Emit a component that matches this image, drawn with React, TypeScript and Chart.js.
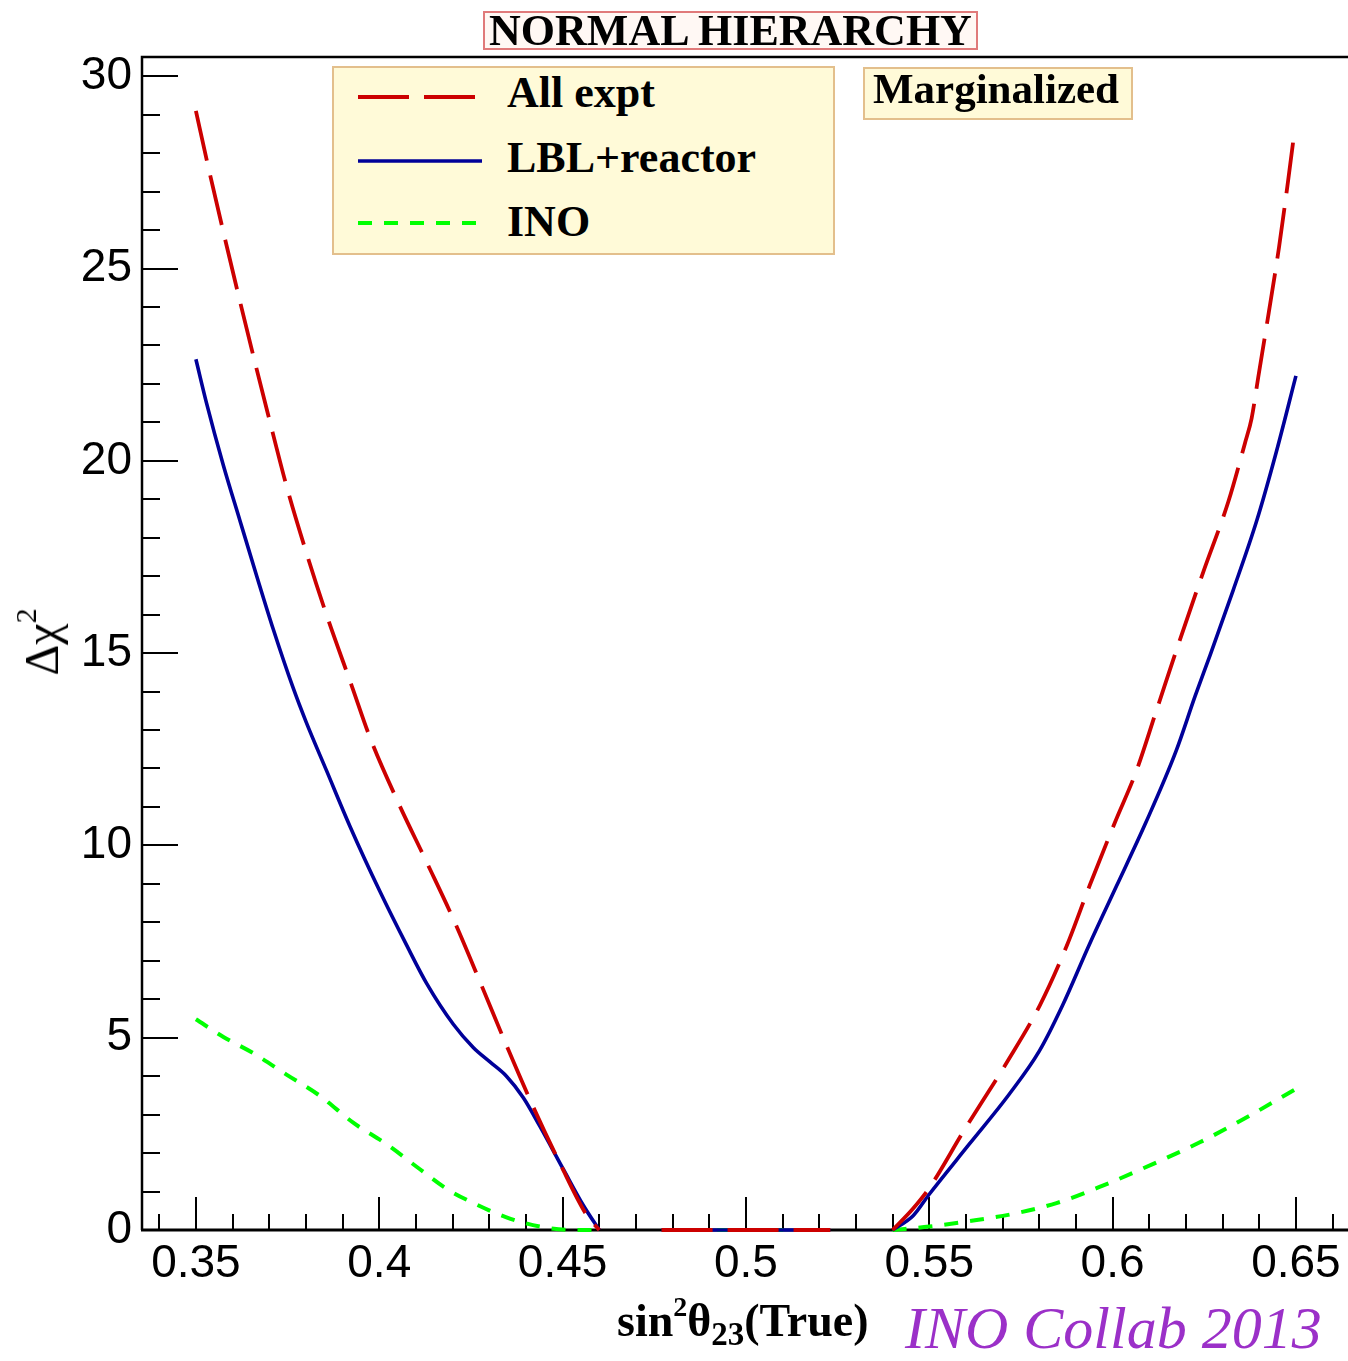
import React, { useEffect, useRef } from 'react';
import { Chart, registerables } from 'chart.js';

Chart.register(...registerables);

// ---------- data ----------
const seriesNames = ['All expt', 'LBL+reactor', 'INO'];

const xMajorLabels = ['0.35', '0.4', '0.45', '0.5', '0.55', '0.6', '0.65'];
const yMajorLabels = ['0', '5', '10', '15', '20', '25', '30'];
const xTickValues = [
  0.34, 0.35, 0.36, 0.37, 0.38, 0.39, 0.4, 0.41, 0.42, 0.43, 0.44, 0.45, 0.46, 0.47, 0.48, 0.49, 0.5,
  0.51, 0.52, 0.53, 0.54, 0.55, 0.56, 0.57, 0.58, 0.59, 0.6, 0.61, 0.62, 0.63, 0.64, 0.65, 0.66,
];
const yTickValues = [
  0, 1, 2, 3, 4, 5, 6, 7, 8, 9, 10, 11, 12, 13, 14, 15, 16, 17, 18, 19, 20, 21, 22, 23, 24, 25, 26, 27,
  28, 29, 30,
];

// All expt (red, long dashes)
const allExptX = [
  0.35, 0.353, 0.357, 0.3615, 0.366, 0.3697, 0.3747, 0.38, 0.3856, 0.3925, 0.3975, 0.405, 0.413,
  0.4206, 0.4275, 0.4347, 0.442, 0.4497, 0.4565, 0.46,
  0.468,
  0.477, 0.5, 0.523,
  0.532,
  0.54, 0.5456, 0.5502, 0.5593, 0.5711, 0.5802, 0.5875, 0.5938, 0.6006, 0.6065, 0.612, 0.6188,
  0.6247, 0.6316, 0.6361, 0.6379, 0.6397, 0.6426, 0.6454, 0.6479, 0.6497,
];
const allExptY = [
  29.1, 27.8, 26.15, 24.35, 22.6, 21.2, 19.35, 17.65, 16.0, 14.15, 12.8, 11.15, 9.55,
  8.0, 6.45, 4.8, 3.2, 1.65, 0.4, 0,
  null,
  0, 0, 0,
  null,
  0, 0.56, 1.12, 2.56, 4.35, 5.85, 7.39, 8.97, 10.59, 11.94, 13.52, 15.47,
  17.1, 18.95, 20.46, 21.1, 22.16, 23.86, 25.56, 27.31, 28.64,
];

// LBL+reactor (blue, solid)
const lblX = [
  0.35, 0.3529, 0.3575, 0.362, 0.3666, 0.3711, 0.3765, 0.3801, 0.3856, 0.392, 0.4002, 0.4075, 0.413,
  0.4202, 0.4257, 0.4302, 0.4347, 0.4393, 0.4438, 0.4502, 0.4556, 0.46,
  0.468,
  0.477, 0.5, 0.523,
  0.532,
  0.54, 0.5456, 0.55, 0.5609, 0.5718, 0.58, 0.5864, 0.5937, 0.601, 0.6091, 0.6173, 0.6225, 0.6266,
  0.6329, 0.6393, 0.6447, 0.65,
];
const lblY = [
  22.64, 21.5, 19.88, 18.45, 17.0, 15.62, 14.1, 13.2, 11.95, 10.5, 8.8, 7.4, 6.4,
  5.35, 4.74, 4.37, 4.0, 3.44, 2.7, 1.58, 0.65, 0,
  null,
  0, 0, 0,
  null,
  0, 0.37, 0.93, 2.23, 3.53, 4.65, 5.85, 7.43, 8.93, 10.6, 12.45, 13.88, 14.95,
  16.64, 18.44, 20.25, 22.21,
];

// INO (green, short dashes)
const inoX = [
  0.35, 0.3575, 0.3656, 0.3747, 0.3838, 0.3929, 0.402, 0.4111, 0.4184, 0.4257, 0.4347, 0.4438,
  0.453, 0.46,
  0.468,
  0.478, 0.5, 0.52,
  0.532,
  0.54, 0.55, 0.5609, 0.5729, 0.5847, 0.5975, 0.6111, 0.6238, 0.6366, 0.65,
];
const inoY = [
  5.48, 5.02, 4.6, 4.04, 3.49, 2.79, 2.23, 1.58, 1.07, 0.7, 0.33, 0.09,
  0, 0,
  null,
  0, 0, 0,
  null,
  0, 0.09, 0.23, 0.42, 0.7, 1.16, 1.72, 2.28, 2.93, 3.67,
];

const seriesColors = ['rgb(204,0,0)', 'rgb(0,0,153)', 'rgb(0,255,0)'];
const seriesDashes: number[][] = [[51, 15], [], [14, 12]];

const zip = (xs: number[], ys: (number | null)[]) => xs.map((x, i) => ({ x, y: ys[i] }));
const fmt = (v: number) => String(Number(v.toFixed(2)));

const framePlugin = {
  id: 'rootFrame',
  beforeDatasetsDraw(chart: any) {
    const { ctx, chartArea: a, scales } = chart;
    ctx.save();
    ctx.strokeStyle = '#000';
    ctx.lineCap = 'butt';
    ctx.lineWidth = 2;
    const xs = scales.x;
    xs.ticks.forEach((t: any) => {
      const px = Math.round(xs.getPixelForValue(t.value));
      const major = xMajorLabels.includes(fmt(t.value));
      const len = major ? 33 : 16;
      ctx.beginPath();
      ctx.moveTo(px, a.bottom);
      ctx.lineTo(px, a.bottom - len);
      ctx.stroke();
    });
    const ys = scales.y;
    ys.ticks.forEach((t: any) => {
      const py = Math.round(ys.getPixelForValue(t.value));
      const major = yMajorLabels.includes(fmt(t.value));
      const len = major ? 36 : 18;
      ctx.beginPath();
      ctx.moveTo(a.left, py);
      ctx.lineTo(a.left + len, py);
      ctx.stroke();
    });
    // frame
    ctx.lineWidth = 3;
    ctx.beginPath();
    ctx.moveTo(a.left - 1, a.bottom);
    ctx.lineTo(a.right, a.bottom);
    ctx.stroke();
    ctx.lineWidth = 2.5;
    ctx.beginPath();
    ctx.moveTo(a.left, a.bottom);
    ctx.lineTo(a.left, a.top);
    ctx.lineTo(a.right, a.top);
    ctx.stroke();
    ctx.restore();
  },
};

export default function App() {
  const canvasRef = useRef<HTMLCanvasElement | null>(null);

  useEffect(() => {
    const canvas = canvasRef.current;
    if (!canvas) return;
    const tickFont = { family: '"Liberation Sans", Arial, Helvetica, sans-serif', size: 46 };
    const common = {
      pointRadius: 0,
      cubicInterpolationMode: 'monotone',
      spanGaps: false,
      fill: false,
      clip: 4,
      borderCapStyle: 'butt',
    };
    const chart = new Chart(canvas, {
      type: 'line',
      data: {
        datasets: [
          {
            ...common,
            label: seriesNames[0],
            data: zip(allExptX, allExptY),
            borderColor: seriesColors[0],
            borderDash: seriesDashes[0],
            borderWidth: 3.8,
          },
          {
            ...common,
            label: seriesNames[1],
            data: zip(lblX, lblY),
            borderColor: seriesColors[1],
            borderDash: seriesDashes[1],
            borderWidth: 3.6,
          },
          {
            ...common,
            label: seriesNames[2],
            data: zip(inoX, inoY),
            borderColor: seriesColors[2],
            borderDash: seriesDashes[2],
            borderWidth: 4,
          },
        ],
      },
      options: {
        responsive: false,
        animation: false,
        devicePixelRatio: 1,
        layout: { padding: { top: 57, left: 0, right: 0, bottom: 0 } },
        plugins: { legend: { display: false }, tooltip: { enabled: false }, title: { display: false } },
        scales: {
          x: {
            type: 'linear',
            min: 0.3353,
            max: 0.6642,
            grid: { display: false, drawTicks: false },
            border: { display: false },
            afterBuildTicks: (scale: any) => {
              scale.ticks = xTickValues.map((v) => ({ value: v }));
            },
            afterFit: (scale: any) => {
              scale.height = 131;
            },
            ticks: {
              autoSkip: false,
              maxRotation: 0,
              minRotation: 0,
              includeBounds: false,
              padding: 7,
              color: '#000',
              font: tickFont,
              callback: (v: any) => (xMajorLabels.includes(fmt(Number(v))) ? fmt(Number(v)) : ''),
            },
          },
          y: {
            type: 'linear',
            min: 0,
            max: 30.5,
            grid: { display: false, drawTicks: false },
            border: { display: false },
            afterBuildTicks: (scale: any) => {
              scale.ticks = yTickValues.map((v) => ({ value: v }));
            },
            afterFit: (scale: any) => {
              scale.width = 142;
            },
            ticks: {
              autoSkip: false,
              includeBounds: false,
              padding: 10,
              color: '#000',
              font: tickFont,
              callback: (v: any) => (yMajorLabels.includes(fmt(Number(v))) ? fmt(Number(v)) : ''),
            },
          },
        },
      },
      plugins: [framePlugin],
    } as any);
    return () => chart.destroy();
  }, []);

  const serif = '"Liberation Serif", "Times New Roman", Times, serif';
  const boxStyle: React.CSSProperties = {
    position: 'absolute',
    boxSizing: 'border-box',
    border: '2px solid #e3bf8c',
    background: '#fffad8',
  };
  const legendText = (top: number, text: string): React.ReactElement => (
    <div
      key={text}
      style={{
        position: 'absolute',
        left: 507,
        top,
        font: `bold 44px ${serif}`,
        lineHeight: '44px',
        whiteSpace: 'nowrap',
        color: '#000',
      }}
    >
      {text}
    </div>
  );

  return (
    <div
      style={{
        position: 'fixed',
        left: 0,
        top: 0,
        width: 1348,
        height: 1361,
        overflow: 'hidden',
        background: '#fff',
      }}
    >
      <canvas
        ref={canvasRef}
        width={1348}
        height={1361}
        style={{ position: 'absolute', left: 0, top: 0, width: 1348, height: 1361 }}
      />
      {/* title */}
      <div
        style={{
          position: 'absolute',
          left: 483,
          top: 11,
          width: 495,
          height: 39,
          boxSizing: 'border-box',
          border: '2px solid #e07a7a',
          background: '#fff8f4',
          font: `bold 44px ${serif}`,
          lineHeight: '36px',
          textAlign: 'center',
          whiteSpace: 'nowrap',
          color: '#000',
        }}
      >
        NORMAL HIERARCHY
      </div>
      {/* legend */}
      <div style={{ ...boxStyle, left: 332, top: 66, width: 503, height: 189 }} />
      <svg
        width={1348}
        height={1361}
        style={{ position: 'absolute', left: 0, top: 0, pointerEvents: 'none' }}
      >
        <line x1={358} y1={97} x2={482} y2={97} stroke={seriesColors[0]} strokeWidth={3.8} strokeDasharray={seriesDashes[0].join(',')} />
        <line x1={358} y1={161} x2={482} y2={161} stroke={seriesColors[1]} strokeWidth={3.6} />
        <line x1={358} y1={223} x2={482} y2={223} stroke={seriesColors[2]} strokeWidth={4} strokeDasharray={seriesDashes[2].join(',')} />
      </svg>
      {legendText(71, seriesNames[0])}
      {legendText(136, seriesNames[1])}
      {legendText(200, seriesNames[2])}
      {/* Marginalized */}
      <div style={{ ...boxStyle, left: 863, top: 67, width: 270, height: 53 }} />
      <div
        style={{
          position: 'absolute',
          left: 873,
          top: 67,
          font: `bold 43px ${serif}`,
          lineHeight: '43px',
          whiteSpace: 'nowrap',
          color: '#000',
        }}
      >
        Marginalized
      </div>
      {/* x title */}
      <div
        style={{
          position: 'absolute',
          left: 617,
          top: 1298,
          font: `bold 46px ${serif}`,
          lineHeight: '46px',
          whiteSpace: 'nowrap',
          color: '#000',
        }}
      >
        sin
        <span style={{ fontSize: 28, position: 'relative', top: -20, lineHeight: 0 }}>2</span>
        θ
        <span style={{ fontSize: 33, position: 'relative', top: 9, lineHeight: 0 }}>23</span>
        (True)
      </div>
      {/* y title */}
      <div
        style={{
          position: 'absolute',
          left: 42,
          top: 642,
          transform: 'translate(-50%, -50%) rotate(-90deg)',
          font: `48px ${serif}`,
          lineHeight: '48px',
          whiteSpace: 'nowrap',
          color: '#000',
        }}
      >
        Δχ
        <span style={{ fontSize: 30, position: 'relative', top: -22, lineHeight: 0 }}>2</span>
      </div>
      {/* watermark */}
      <div
        style={{
          position: 'absolute',
          left: 905,
          top: 1298,
          font: `italic 60px ${serif}`,
          lineHeight: '60px',
          whiteSpace: 'nowrap',
          color: 'rgb(155,48,200)',
        }}
      >
        INO Collab 2013
      </div>
    </div>
  );
}
